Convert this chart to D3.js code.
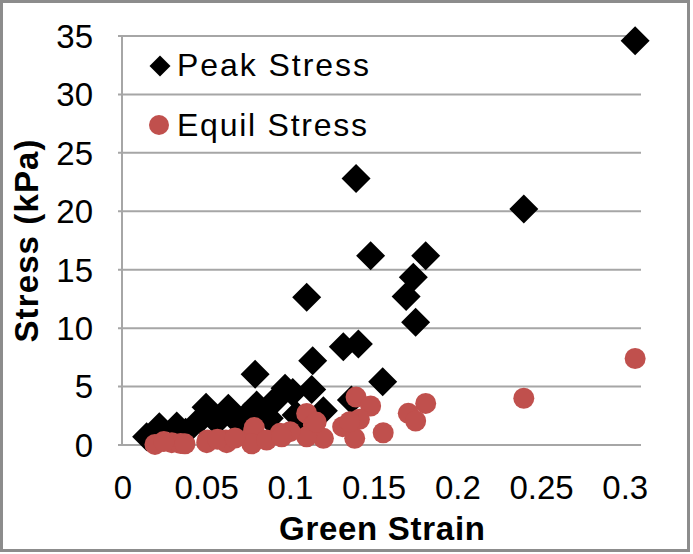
<!DOCTYPE html>
<meta charset="utf-8">
<style>

body {
	margin: 0;
	background: white;
}

.canvas text {
	font-family: "Liberation Sans", Arial, sans-serif;
	fill: black;
}

.grid line {
	stroke: #a6a6a6;
	stroke-width: 2;
}

.tick-y {
	font-size: 33px;
	text-anchor: end;
}

.tick-x {
	font-size: 33px;
	text-anchor: middle;
}

.axis-title {
	font-size: 33px;
	font-weight: bold;
	text-anchor: middle;
}

.legend text {
	font-size: 32px;
}

.peak {
	fill: black;
}

.equil {
	fill: #c0504d;
}

</style>
<svg class="canvas"></svg>
<script src="https://cdn.jsdelivr.net/npm/d3@7"></script>
<script>

// Peak Stress series (strain, kPa)
var peakStrain = [0.3065, 0.240, 0.1398, 0.1485, 0.1814, 0.174, 0.1697, 0.1754, 0.1103, 0.1322,
	0.1412, 0.1139, 0.0795, 0.1557, 0.0974, 0.1133, 0.1203, 0.137, 0.092, 0.0804,
	0.088, 0.0502, 0.0635, 0.0466, 0.0566, 0.0223, 0.0327, 0.0147, 0.0735, 0.104,
	0.109, 0.0697, 0.102, 0.038, 0.0605];
var peakStress = [34.6, 20.2, 22.8, 16.2, 16.2, 14.35, 12.7, 10.5, 12.65, 8.4,
	8.65, 7.2, 6.05, 5.42, 4.85, 4.76, 2.94, 3.85, 3.9, 3.42,
	2.28, 3.22, 3.14, 2.14, 2.0, 1.57, 1.63, 0.71, 2.42, 2.57,
	2.25, 1.9, 4.5, 1.1, 2.6];

// Equil Stress series (strain, kPa)
var equilStrain = [0.3065, 0.240, 0.1398, 0.1485, 0.1814, 0.171, 0.1754, 0.1103, 0.1418, 0.1318,
	0.139, 0.156, 0.1143, 0.1203, 0.1103, 0.1004, 0.0944, 0.0785, 0.079, 0.0775,
	0.0864, 0.0954, 0.062, 0.051, 0.0506, 0.0625, 0.057, 0.035, 0.0297, 0.0197,
	0.0376, 0.025, 0.116, 0.0675, 0.136];
var equilStress = [7.4, 4.0, 4.1, 3.34, 3.56, 2.71, 2.05, 2.7, 2.2, 1.57,
	0.57, 1.05, 1.71, 0.57, 0.71, 1.14, 1.0, 1.14, 1.49, 0.1,
	0.43, 0.71, 0.43, 0.43, 0.2, 0.2, 0.5, 0.13, 0.2, 0.05,
	0.1, 0.3, 1.96, 0.6, 2.0];

var xTicks = [0, 0.05, 0.1, 0.15, 0.2, 0.25, 0.3];
var yTicks = [0, 5, 10, 15, 20, 25, 30, 35];
var xTickLabels = ["0", "0.05", "0.1", "0.15", "0.2", "0.25", "0.3"];

var width = 693,
	height = 554;

var PLOT_L = 122, PLOT_R = 641, PLOT_T = 36, PLOT_B = 445;
var DIAMOND = 14.5;
var DOT_R = 10.5;

var canvas = d3.select(".canvas")
	.attr("width", width)
	.attr("height", height);

var x = d3.scaleLinear().domain([0, 0.31]).range([PLOT_L, PLOT_R]);
var y = d3.scaleLinear().domain([0, 35]).range([PLOT_B, PLOT_T]);

// outer frame
canvas.append("rect")
	.attr("x", 1.5).attr("y", 1.5)
	.attr("width", 687).attr("height", 549)
	.attr("fill", "none")
	.attr("stroke", "#8c8c8c")
	.attr("stroke-width", 3);

// gridlines
var grid = canvas.append("g").attr("class", "grid");
grid.selectAll("line.h").data(yTicks)
	.enter().append("line")
	.attr("x1", PLOT_L - 4)
	.attr("x2", PLOT_R)
	.attr("y1", function(d) { return y(d); })
	.attr("y2", function(d) { return y(d); });

grid.append("line")
	.attr("x1", PLOT_L).attr("x2", PLOT_L)
	.attr("y1", PLOT_T - 1).attr("y2", PLOT_B + 1);

// tick labels
canvas.selectAll("text.tick-y").data(yTicks)
	.enter().append("text")
	.attr("class", "tick-y")
	.attr("x", 93)
	.attr("y", function(d) { return y(d); })
	.attr("dy", "0.36em")
	.text(function(d) { return d; });

canvas.selectAll("text.tick-x").data(xTicks)
	.enter().append("text")
	.attr("class", "tick-x")
	.attr("x", function(d) { return x(d) + 1; })
	.attr("y", 499)
	.text(function(d, i) { return xTickLabels[i]; });

// axis titles
canvas.append("text")
	.attr("class", "axis-title")
	.attr("x", 382)
	.attr("y", 540)
	.attr("textLength", 206)
	.attr("lengthAdjust", "spacing")
	.text("Green Strain");

canvas.append("text")
	.attr("class", "axis-title")
	.attr("transform", "translate(38,241) rotate(-90)")
	.attr("textLength", 203)
	.attr("lengthAdjust", "spacing")
	.text("Stress (kPa)");

var diamond = d3.symbol().type(d3.symbolSquare).size(DIAMOND * DIAMOND * 2);

// Peak Stress points
canvas.selectAll("path.peak").data(d3.range(peakStrain.length))
	.enter().append("path")
	.attr("class", "peak")
	.attr("d", diamond)
	.attr("transform", function(i) {
		return "translate(" + x(peakStrain[i]) + "," + y(peakStress[i]) + ") rotate(45)"; });

// Equil Stress points
canvas.selectAll("circle.equil").data(d3.range(equilStrain.length))
	.enter().append("circle")
	.attr("class", "equil")
	.attr("cx", function(i) { return x(equilStrain[i]); })
	.attr("cy", function(i) { return y(equilStress[i]); })
	.attr("r", DOT_R);

// legend
var legend = canvas.append("g").attr("class", "legend");

legend.append("path")
	.attr("class", "peak")
	.attr("d", d3.symbol().type(d3.symbolSquare).size(10.5 * 10.5 * 2))
	.attr("transform", "translate(160,66) rotate(45)");

legend.append("text")
	.attr("x", 177)
	.attr("y", 76)
	.attr("textLength", 192)
	.attr("lengthAdjust", "spacing")
	.text("Peak Stress");

legend.append("circle")
	.attr("class", "equil")
	.attr("cx", 159)
	.attr("cy", 125)
	.attr("r", 10);

legend.append("text")
	.attr("x", 177)
	.attr("y", 136)
	.attr("textLength", 190)
	.attr("lengthAdjust", "spacing")
	.text("Equil Stress");

</script>
